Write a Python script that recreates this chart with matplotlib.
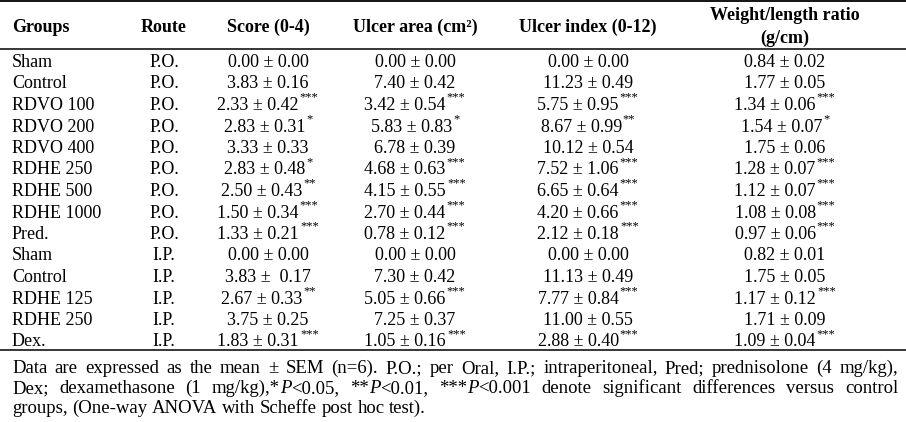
import matplotlib
matplotlib.use("Agg")
import matplotlib.pyplot as plt

# ---------------- data ----------------
groups = ["Sham", "Control", "RDVO 100", "RDVO 200", "RDVO 400", "RDHE 250",
          "RDHE 500", "RDHE 1000", "Pred.", "Sham", "Control", "RDHE 125",
          "RDHE 250", "Dex."]
routes = ["P.O.", "P.O.", "P.O.", "P.O.", "P.O.", "P.O.", "P.O.", "P.O.", "P.O.",
          "I.P.", "I.P.", "I.P.", "I.P.", "I.P."]
score = ["0.00 ± 0.00", "3.83 ± 0.16", "2.33 ± 0.42", "2.83 ± 0.31", "3.33 ± 0.33",
         "2.83 ± 0.48", "2.50 ± 0.43", "1.50 ± 0.34", "1.33 ± 0.21", "0.00 ± 0.00",
         "3.83 ±  0.17", "2.67 ± 0.33", "3.75 ± 0.25", "1.83 ± 0.31"]
score_sig = ["", "", "***", "*", "", "*", "**", "***", "***", "", "", "**", "", "***"]
area = ["0.00 ± 0.00", "7.40 ± 0.42", "3.42 ± 0.54", "5.83 ± 0.83", "6.78 ± 0.39",
        "4.68 ± 0.63", "4.15 ± 0.55", "2.70 ± 0.44", "0.78 ± 0.12", "0.00 ± 0.00",
        "7.30 ± 0.42", "5.05 ± 0.66", "7.25 ± 0.37", "1.05 ± 0.16"]
area_sig = ["", "", "***", "*", "", "***", "***", "***", "***", "", "", "***", "", "***"]
uindex = ["0.00 ± 0.00", "11.23 ± 0.49", "5.75 ± 0.95", "8.67 ± 0.99", "10.12 ± 0.54",
          "7.52 ± 1.06", "6.65 ± 0.64", "4.20 ± 0.66", "2.12 ± 0.18", "0.00 ± 0.00",
          "11.13 ± 0.49", "7.77 ± 0.84", "11.00 ± 0.55", "2.88 ± 0.40"]
uindex_sig = ["", "", "***", "**", "", "***", "***", "***", "***", "", "", "***", "", "***"]
ratio = ["0.84 ± 0.02", "1.77 ± 0.05", "1.34 ± 0.06", "1.54 ± 0.07", "1.75 ± 0.06",
         "1.28 ± 0.07", "1.12 ± 0.07", "1.08 ± 0.08", "0.97 ± 0.06", "0.82 ± 0.01",
         "1.75 ± 0.05", "1.17 ± 0.12", "1.71 ± 0.09", "1.09 ± 0.04"]
ratio_sig = ["", "", "***", "*", "", "***", "***", "***", "***", "", "", "***", "", "***"]

headers = ["Groups", "Route", "Score (0-4)", "Ulcer area (cm²)", "Ulcer index (0-12)"]
header_last = ["Weight/length ratio", "(g/cm)"]

footnote = [
    [[("Data", "normal")], [("are", "normal")], [("expressed", "normal")], [("as", "normal")],
     [("the", "normal")], [("mean", "normal")], [("±", "normal")], [("SEM", "normal")],
     [("(n=6).", "normal")], [("P.O.;", "normal")], [("per", "normal")], [("Oral,", "normal")],
     [("I.P.;", "normal")], [("intraperitoneal,", "normal")], [("Pred;", "normal")],
     [("prednisolone", "normal")], [("(4", "normal")], [("mg/kg),", "normal")]],
    [[("Dex;", "normal")], [("dexamethasone", "normal")], [("(1", "normal")],
     [("mg/kg),*", "normal"), ("P", "italic"), ("<0.05,", "normal")],
     [("**", "normal"), ("P", "italic"), ("<0.01,", "normal")],
     [("***", "normal"), ("P", "italic"), ("<0.001", "normal")],
     [("denote", "normal")], [("significant", "normal")], [("differences", "normal")],
     [("versus", "normal")], [("control", "normal")]],
    [[("groups,", "normal")], [("(One-way", "normal")], [("ANOVA", "normal")],
     [("with", "normal")], [("Scheffe", "normal")], [("post", "normal")],
     [("hoc", "normal")], [("test).", "normal")]],
]

# ---------------- layout ----------------
W, H = 906, 422
SERIF = "Liberation Serif"
FS = 13         # body
FH = 13         # header
FSTAR = 9
FN = 13.5       # footnote

fig = plt.figure(figsize=(W / 100, H / 100), dpi=100)
ax = fig.add_axes([0, 0, 1, 1])
ax.set_xlim(0, W)
ax.set_ylim(H, 0)
ax.axis("off")
renderer = fig.canvas.get_renderer()


def width(t):
    return t.get_window_extent(renderer=renderer).width


row0, dy = 61, 21.5
base_off = 6
col_centers = [164, 268, 415, 588, 785]

# lines
for yl, lw in [(1, 1.3), (49, 1.1), (350, 1.1)]:
    ax.axhline(yl, color="black", lw=lw)

# headers
hy = 26 + base_off
ax.text(12, hy, headers[0], fontsize=FH, family=SERIF, weight="bold", va="baseline", ha="left")
for cx, h in zip(col_centers[:4], headers[1:]):
    ax.text(cx, hy, h, fontsize=FH, family=SERIF, weight="bold", va="baseline", ha="center")
ax.text(col_centers[4], 14 + base_off, header_last[0], fontsize=FH, family=SERIF,
        weight="bold", va="baseline", ha="center")
ax.text(col_centers[4], 37 + base_off, header_last[1], fontsize=FH, family=SERIF,
        weight="bold", va="baseline", ha="center")


def cell(cx, y, val, sig):
    t = ax.text(0, y + base_off, val, fontsize=FS, family=SERIF, va="baseline", ha="left")
    wv = width(t)
    ws = 0
    s = None
    if sig:
        s = ax.text(0, y - 3.5, sig, fontsize=FSTAR, family=SERIF, va="baseline", ha="left")
        ws = width(s) + 1
    x0 = cx - (wv + ws) / 2
    t.set_x(x0)
    if s is not None:
        s.set_x(x0 + wv + 1)


for i in range(len(groups)):
    y = row0 + i * dy
    ax.text(12, y + base_off, groups[i], fontsize=FS, family=SERIF, va="baseline", ha="left")
    ax.text(col_centers[0], y + base_off, routes[i], fontsize=FS, family=SERIF,
            va="baseline", ha="center")
    cell(col_centers[1], y, score[i], score_sig[i])
    cell(col_centers[2], y, area[i], area_sig[i])
    cell(col_centers[3], y, uindex[i], uindex_sig[i])
    cell(col_centers[4], y, ratio[i], ratio_sig[i])

# footnote
fn_y = [367, 387, 407]
x_left, x_right = 12, 898
for li, (line, yc) in enumerate(zip(footnote, fn_y)):
    arts, widths = [], []
    for tok in line:
        parts = []
        wsum = 0
        for s, st in tok:
            t = ax.text(0, yc + base_off, s, fontsize=FN, family=SERIF, style=st,
                        va="baseline", ha="left")
            tw = width(t)
            parts.append((t, tw))
            wsum += tw
        arts.append(parts)
        widths.append(wsum)
    if li < 2:
        gap = (x_right - x_left - sum(widths)) / (len(line) - 1)
    else:
        gap = FN * 100 / 72 * 0.25
    x = x_left
    for parts, wt in zip(arts, widths):
        xx = x
        for t, tw in parts:
            t.set_x(xx)
            xx += tw
        x += wt + gap

fig.savefig("out.png", dpi=100)
